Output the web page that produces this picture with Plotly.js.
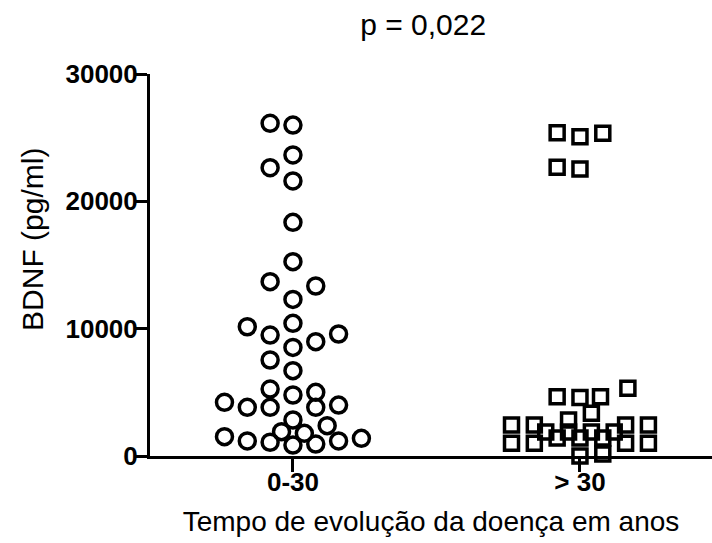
<!DOCTYPE html>
<html>
<head>
<meta charset="utf-8">
<script src="https://cdn.plot.ly/plotly-3.0.1.min.js"></script>
<style>html,body{margin:0;padding:0;background:#fff;}#chart{width:712px;height:543px;}</style>
</head>
<body>
<div id="chart"></div>
<script>
// Category labels
const categories = ["0-30", "> 30"];

// Group 0-30 (circles): BDNF values (pg/ml) and swarm slot
const group1Values = [26130, 25990, 23640, 22640, 21600, 18350, 15260, 13690, 13350, 12300,
  10420, 10150, 9580, 9500, 8980, 8530, 7540, 6700, 5260, 5000, 4790, 4220, 4000,
  3820, 3820, 3820, 2830, 2380, 1910, 1780, 1520, 1390, 1180, 1180, 1080, 940, 860];
const group1Slots = [-1, 0, 0, -1, 0, 0, 0, -1, 1, 0,
  0, -2, 2, -1, 1, 0, -1, 0, -1, 1, 0, -3, 2,
  -2, -1, 1, 0, 1.5, -0.5, 0.5, -3, 3, -2, 2, -1, 1, 0];

// Group > 30 (squares)
const group2Values = [25390, 25080, 25340, 22670, 22540,
  5320, 4660, 4600, 4660, 3350, 2830,
  2430, 2430, 2430, 2430,
  1000, 1000, 1000, 1000,
  1880, 1880, 1880, 1880,
  1410, 1410, 1410,
  0, 150];
const group2Slots = [-1, 0, 1, -1, 0,
  2.1, -1, 0, 0.9, 0.5, -0.5,
  -3, -2, 2, 3,
  -3, -2, 2, 3,
  -1.5, -0.5, 0.5, 1.5,
  -1, 0, 1,
  0, 1];

const yTicks = [0, 10000, 20000, 30000];
const titleText = "p = 0,022";
const xTitle = "Tempo de evolução da doença em anos";
const yTitle = "BDNF (pg/ml)";

const slotStep = 0.0795; // horizontal spacing of swarm columns in category units
const FONT = "Arial, 'Liberation Sans', sans-serif";
const catPos = categories.map((c, i) => i);

const traces = [
  {
    x: group1Values.map((v, i) => catPos[0] + group1Slots[i] * slotStep),
    y: group1Values,
    type: "scatter", mode: "markers", cliponaxis: false, showlegend: false,
    marker: {symbol: "circle-open", size: 16, color: "#000", line: {width: 3.5, color: "#000"}}
  },
  {
    x: group2Values.map((v, i) => catPos[1] + group2Slots[i] * slotStep),
    y: group2Values,
    type: "scatter", mode: "markers", cliponaxis: false, showlegend: false,
    marker: {symbol: "square-open", size: 14, color: "#000", line: {width: 3.5, color: "#000"}}
  }
];

const layout = {
  width: 712, height: 543,
  margin: {l: 150, r: 0, t: 74, b: 87},
  paper_bgcolor: "#fff", plot_bgcolor: "#fff",
  font: {family: FONT, color: "#000"},
  title: {text: titleText, font: {size: 30, family: FONT, color: "#000"}, x: 0.486, xref: "paper", y: 0.954, yref: "container", xanchor: "center", yanchor: "middle"},
  xaxis: {
    range: [-0.498, 1.46], showgrid: false, zeroline: false,
    showline: true, linewidth: 3, linecolor: "#000",
    tickmode: "array", tickvals: catPos, ticktext: categories,
    ticks: "outside", ticklen: 13, tickwidth: 3, tickcolor: "#000",
    ticklabelstandoff: -12,
    tickfont: {size: 26, family: FONT, color: "#000", weight: "bold"},
    title: {text: xTitle, font: {size: 28, family: FONT, color: "#000"}, standoff: 16},
    automargin: false
  },
  yaxis: {
    range: [0, 30000], showgrid: false, zeroline: false,
    showline: true, linewidth: 3, linecolor: "#000",
    tickmode: "array", tickvals: yTicks, ticktext: yTicks.map(String),
    ticks: "outside", ticklen: 12, tickwidth: 3, tickcolor: "#000",
    ticklabelstandoff: -8,
    tickfont: {size: 26, family: FONT, color: "#000", weight: "bold"},
    automargin: false
  },
  annotations: [{
    text: yTitle, textangle: -90, showarrow: false,
    xref: "paper", yref: "paper", x: -0.208, y: 0.566,
    xanchor: "center", yanchor: "middle",
    font: {size: 30, family: FONT, color: "#000"}
  }]
};

Plotly.newPlot("chart", traces, layout, {displayModeBar: false, staticPlot: true});
</script>
</body>
</html>
